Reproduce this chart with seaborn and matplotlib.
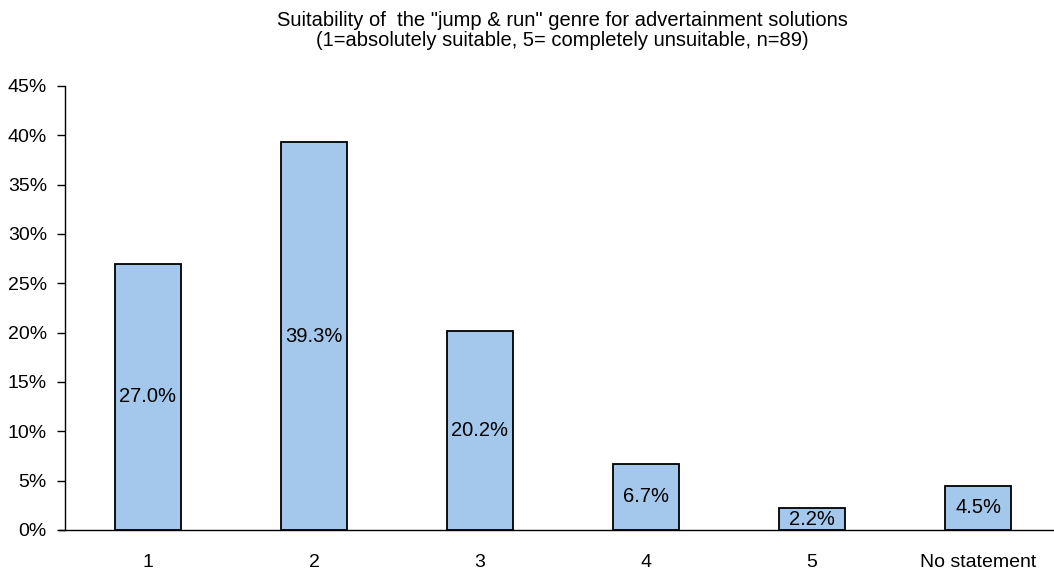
import matplotlib
matplotlib.use("Agg")
import matplotlib.pyplot as plt
import seaborn as sns
import pandas as pd
from matplotlib.ticker import PercentFormatter

categories = ["1", "2", "3", "4", "5", "No statement"]
shares = [27.0, 39.3, 20.2, 6.7, 2.2, 4.5]
title_lines = [
    'Suitability of  the "jump & run" genre for advertainment solutions',
    "(1=absolutely suitable, 5= completely unsuitable, n=89)",
]

sns.set_theme(style="white")
plt.rcParams["font.family"] = ["Liberation Sans", "DejaVu Sans"]

df = pd.DataFrame({"category": categories, "share": shares})

fig = plt.figure(figsize=(10.54, 5.70), dpi=100)
ax = fig.add_axes([65 / 1054, 40 / 570, 996 / 1054, 444 / 570])

sns.barplot(data=df, x="category", y="share", color="#A4C8EC",
            edgecolor="black", linewidth=1.3, width=0.4, saturation=1, ax=ax)

for i, v in enumerate(shares):
    ax.text(i, v / 2, f"{v:.1f}%", ha="center", va="center",
            fontsize=14.5, color="black")

ax.set_xlim(-0.5, 5.5)
ax.set_ylim(0, 45)
ax.set_yticks(range(0, 46, 5))
ax.yaxis.set_major_formatter(PercentFormatter(decimals=0))
ax.set_xlabel("")
ax.set_ylabel("")

for side in ["top", "right"]:
    ax.spines[side].set_visible(False)
for side in ["left", "bottom"]:
    ax.spines[side].set_color("black")
    ax.spines[side].set_linewidth(1.0)
ax.spines["bottom"].set_bounds(-0.5 - 6 / 166, 5.5)

ax.tick_params(axis="y", which="major", left=True, length=6, width=1,
               color="black", labelsize=14, pad=7, labelcolor="black")
ax.tick_params(axis="x", bottom=False, labelsize=14, pad=11, labelcolor="black")
ax.grid(False)

fig.text(562 / 1054, 1 - 20 / 570, title_lines[0], ha="center", va="center",
         fontsize=14.5, color="black")
fig.text(562 / 1054, 1 - 41 / 570, title_lines[1], ha="center", va="center",
         fontsize=14.5, color="black")

fig.savefig("out.png", dpi=100)
